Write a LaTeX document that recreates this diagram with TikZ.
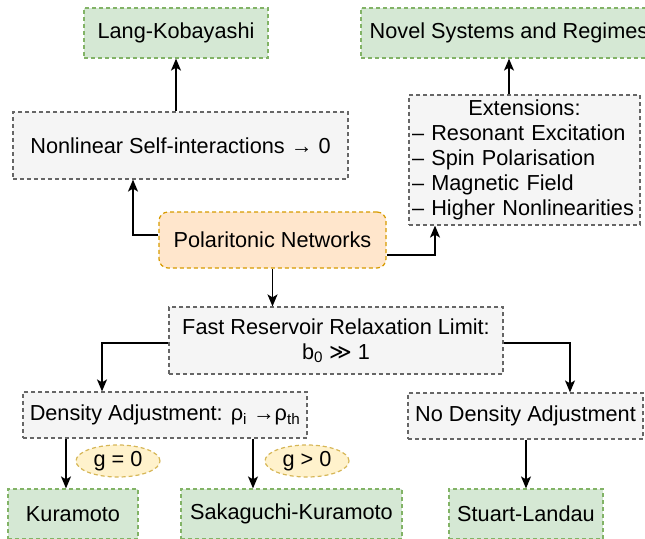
\documentclass[tikz,border=0pt]{standalone}
\usepackage{fontspec}
\setmainfont{Liberation Sans}
\newfontfamily\symfont{DejaVu Sans}
\usetikzlibrary{arrows.meta, positioning, shapes.geometric}
\definecolor{cgreen}{HTML}{82B366}
\definecolor{cgreenfill}{HTML}{D5E8D4}
\definecolor{cgrey}{HTML}{666666}
\definecolor{cgreyfill}{HTML}{F5F5F5}
\definecolor{corange}{HTML}{D79B00}
\definecolor{corangefill}{HTML}{FFE6CC}
\definecolor{cyellow}{HTML}{D6B656}
\definecolor{cyellowfill}{HTML}{FFF2CC}
\tikzset{
  every picture/.style={font=\fontsize{21.7}{25}\selectfont, line width=1.4pt},
  box/.style={draw=#1, fill=#1fill, line width=1.2pt, dash pattern=on 4pt off 3pt, align=center, inner sep=3pt, minimum height=50pt},
  box/.default=cgrey,
  arrow/.style={-{Stealth[length=12pt, width=10pt, inset=3pt]}, draw=black, line width=1.4pt},
  cond/.style={ellipse, draw=cyellow, fill=cyellowfill, line width=1.2pt, dash pattern=on 4pt off 3pt, minimum width=84pt, minimum height=32pt, inner sep=0pt},
}

\begin{document}
\begin{tikzpicture}[x=1pt, y=-1pt]
  \useasboundingbox (0,0) rectangle (645,538);
  % start
  \node[box=corange, rounded corners=9pt, minimum width=227pt, minimum height=56pt] (pol) at (272.5,240) {Polaritonic Networks};
  % upper branches
  \node[box, minimum width=335pt, minimum height=67pt] (nonlin) at (180.5,145.5) {Nonlinear Self-interactions → 0};
  \node[box=cgreen, minimum width=184pt] (lang) at (176,33) {Lang-Kobayashi};
  \node[box, minimum width=231pt, minimum height=130pt, text width=225pt, align=left] (ext) at (524.5,160)
    {\hfill Extensions:\hfill\null\\ – Resonant Excitation\\ – Spin Polarisation\\ – Magnetic Field\\ – Higher Nonlinearities};
  \node[box=cgreen, minimum width=296pt] (novel) at (509,33) {Novel Systems and Regimes};
  \draw[arrow] ([yshift=5pt]pol.west) -| ([xshift=-47.5pt]nonlin.south);
  \draw[arrow] (lang.south |- nonlin.north) -- (lang.south);
  \draw[arrow] ([yshift=-15pt]pol.east) -| ([xshift=-89.5pt]ext.south);
  \draw[arrow] (novel.south |- ext.north) -- (novel.south);
  % reservoir limit
  \node[box, minimum width=334pt, minimum height=67pt] (fast) at (336,340.5) {Fast Reservoir Relaxation Limit:\\ b\textsubscript{0} {\symfont ≫} 1};
  \draw[arrow] (pol.south) -- (pol.south |- fast.north);
  \node[box, minimum width=284pt, minimum height=46pt] (dens) at (165,415) {Density Adjustment: ρ\textsubscript{i} →ρ\textsubscript{th}};
  \node[box, minimum width=235pt, minimum height=46pt] (nodens) at (525.5,416) {No Density Adjustment};
  \draw[arrow] ([yshift=-2.5pt]fast.west) -| ([xshift=-63pt]dens.north);
  \draw[arrow] ([yshift=-2.5pt]fast.east) -| ([xshift=44.5pt]nodens.north);
  % models
  \foreach \n/\x/\w/\t in {kura/73/130/Kuramoto, saka/291.5/221/Sakaguchi-Kuramoto, stuart/526/154/Stuart-Landau}
    \node[box=cgreen, minimum width=\w pt] (\n) at (\x,514) {\t};
  \draw[arrow] ([xshift=-7pt]kura.north |- dens.south) -- ([xshift=-7pt]kura.north);
  \draw[arrow] ([xshift=-38.5pt]saka.north |- dens.south) -- ([xshift=-38.5pt]saka.north);
  \draw[arrow] (stuart.north |- nodens.south) -- (stuart.north);
  \node[cond] (g0) at (118,461) {g = 0};
  \node[cond] (g1) at (307,461) {g > 0};
\end{tikzpicture}
\end{document}
